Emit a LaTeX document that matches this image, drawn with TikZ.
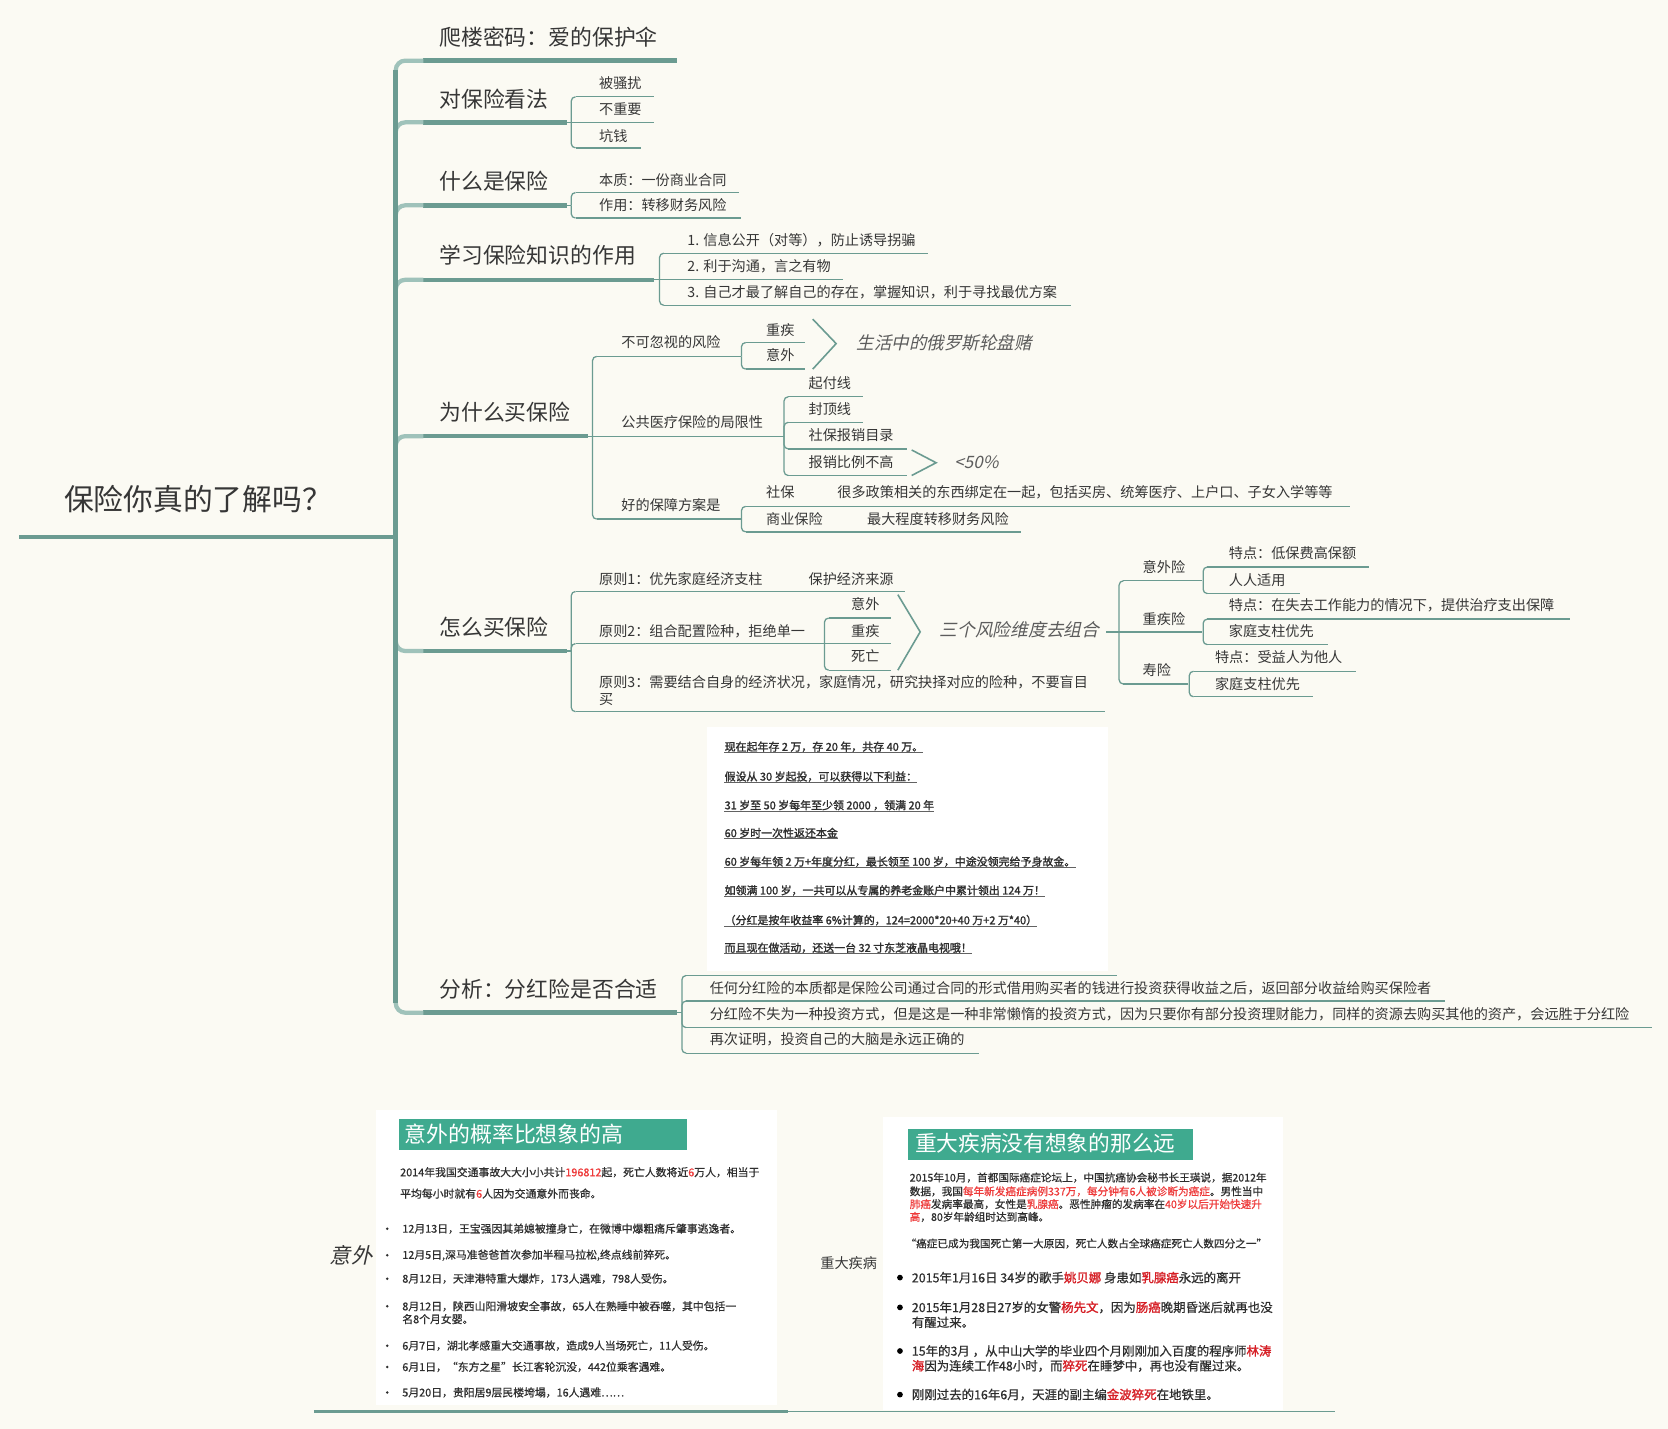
\documentclass[tikz,border=0pt]{standalone}
\usepackage{fontspec}
\setmainfont{Noto Sans CJK SC}
\newfontfamily\slantcjk[FakeSlant=0.22]{Noto Sans CJK SC}
\newfontfamily\heavycjk[FakeBold=1.6]{Noto Sans CJK SC}
\newfontfamily\midcjk[FakeBold=0.6]{Noto Sans CJK SC}
\usetikzlibrary{calc}

\definecolor{paper}{HTML}{FBFAF3}
\definecolor{branch}{HTML}{6B9B91}
\definecolor{branchlight}{HTML}{9FC2BA}
\definecolor{ink}{HTML}{363636}
\definecolor{soft}{HTML}{5C5C5C}
\definecolor{panelink}{HTML}{2E2E2E}
\definecolor{banner}{HTML}{3FAA8F}
\definecolor{alert}{HTML}{EE3A3A}
\definecolor{alertdark}{HTML}{D61F26}

\newcommand\fsz[1]{\fontsize{#1}{#1}\selectfont}
% a topic underline with named ends
\newcommand\tline[5]{%
  \coordinate (#1-s) at (#2,#4);
  \coordinate (#1-e) at (#3,#4);
  \draw[#5] (#1-s) -- (#1-e);}
% bracket connector with a rounded elbow
\newcommand\twig[2]{\draw[twigline] (#1) |- (#2);}
\newcommand\red[1]{\textcolor{alert}{#1}}
\newcommand\hot[1]{{\heavycjk\textcolor{alertdark}{#1}}}
% underlined line of the savings-plan panel
\newcommand\pline[3]{%
  \node[paneltxt] (#1) at (681,#2) {#3};
  \draw[panelrule] ([yshift=-0.6pt]#1.south west) -- ([yshift=-0.6pt]#1.south east);}

\begin{document}
\begin{tikzpicture}[x=1pt,y=-1pt,
  trunk/.style={draw=branch,line width=4.6pt},
  spur/.style={draw=branchlight,line width=4pt,rounded corners=9pt},
  thickline/.style={draw=branch,line width=4.2pt},
  thinline/.style={draw=branch,line width=1.2pt},
  twigline/.style={draw=branch,line width=1.2pt,rounded corners=4pt},
  chevron/.style={draw=branch,line width=1.5pt},
  txt/.style={anchor=west,inner sep=0pt,text=ink},
  topic/.style={txt,font=\fsz{20.5}},
  leaf/.style={txt,font=\fsz{13.3}},
  aside/.style={txt,text=soft,font=\slantcjk\fsz{16.5}},
  paneltxt/.style={txt,text=panelink,font=\heavycjk\fsz{10.3}},
  panelrule/.style={draw=panelink!75,line width=0.9pt},
  note/.style={txt,text=panelink,font=\midcjk\fsz{10.2}},
  notes/.style={txt,text=panelink,font=\midcjk\fsz{11.7}},
  bannertxt/.style={txt,text=white,font=\fsz{20.6}},
]
\useasboundingbox (0,0) rectangle (1568,1343);
\fill[paper] (0,0) rectangle (1568,1343);

% ---------- root ----------
\node[txt,font=\fsz{28}] (root) at (60,469) {保险你真的了解吗？};
\tline{r}{18}{363}{505}{thickline}
\coordinate (hub) at (372,505);
\draw[thickline] (r-e) -- (hub);

% ---------- main branches ----------
\tline{b1}{398}{636}{57}{thickline}
\tline{b2}{398}{533}{115}{thickline}
\tline{b3}{398}{533}{193}{thickline}
\tline{b4}{398}{615}{263}{thickline}
\tline{b5}{398}{553}{410}{thickline}
\tline{b6}{398}{533}{612}{thickline}
\tline{b7}{398}{636}{952}{thickline}
\foreach \b in {b1,b2,b3,b4,b5,b6,b7} \draw[spur] (hub) |- (\b-s);
\coordinate (spinetop) at (372,66);
\coordinate (spinebot) at (372,943);
\draw[trunk] (spinetop) -- (spinebot);

\node[topic] (b1t) at (413,35) {爬楼密码：爱的保护伞};
\node[topic] (b2t) at (413,93) {对保险看法};
\node[topic] (b3t) at (413,170) {什么是保险};
\node[topic] (b4t) at (413,240) {学习保险知识的作用};
\node[topic] (b5t) at (413,387) {为什么买保险};
\node[topic] (b6t) at (413,590) {怎么买保险};
\node[topic] (b7t) at (413,930) {分析：分红险是否合适};

% ---------- 对保险看法 ----------
\coordinate (b2j) at (537,115);
\draw[thinline] (b2-e) -- (b2j);
\tline{b2a}{541}{615}{91}{thinline}
\tline{b2b}{541}{615}{115}{thinline}
\tline{b2c}{541}{603}{139}{thinline}
\twig{b2j}{b2a-s}
\draw[thinline] (b2j) -- (b2b-s);
\twig{b2j}{b2c-s}
\node[leaf] (b2at) at (563,78) {被骚扰};
\node[leaf] (b2bt) at (563,103) {不重要};
\node[leaf] (b2ct) at (563,128) {坑钱};

% ---------- 什么是保险 ----------
\coordinate (b3j) at (537,193);
\draw[thinline] (b3-e) -- (b3j);
\tline{b3a}{541}{695}{181}{thinline}
\tline{b3b}{541}{697}{205}{thinline}
\twig{b3j}{b3a-s}
\twig{b3j}{b3b-s}
\node[leaf] (b3at) at (563,169) {本质：一份商业合同};
\node[leaf] (b3bt) at (563,193) {作用：转移财务风险};

% ---------- 学习保险知识的作用 ----------
\coordinate (b4j) at (620,263);
\draw[thinline] (b4-e) -- (b4j);
\tline{b4a}{624}{872}{238}{thinline}
\tline{b4b}{624}{792}{263}{thinline}
\tline{b4c}{624}{1007}{287}{thinline}
\twig{b4j}{b4a-s}
\draw[thinline] (b4j) -- (b4b-s);
\twig{b4j}{b4c-s}
\node[leaf] (b4at) at (646,226) {1. 信息公开（对等），防止诱导拐骗};
\node[leaf] (b4bt) at (646,250) {2. 利于沟通，言之有物};
\node[leaf] (b4ct) at (646,275) {3. 自己才最了解自己的存在，掌握知识，利于寻找最优方案};

% ---------- 为什么买保险 ----------
\coordinate (b5j) at (557,410);
\draw[thinline] (b5-e) -- (b5j);
\tline{b5a}{561}{695}{335}{thinline}
\tline{b5b}{561}{735}{410}{thinline}
\tline{b5c}{561}{695}{488}{thinline}
\twig{b5j}{b5a-s}
\draw[thinline] (b5j) -- (b5b-s);
\twig{b5j}{b5c-s}
\node[leaf] (b5at) at (584,322) {不可忽视的风险};
\node[leaf] (b5bt) at (584,397) {公共医疗保险的局限性};
\node[leaf] (b5ct) at (584,475) {好的保障方案是};

% risks
\coordinate (b5aj) at (697,335);
\draw[thinline] (b5a-e) -- (b5aj);
\tline{b5a1}{701}{757}{322}{thinline}
\tline{b5a2}{701}{757}{347}{thinline}
\twig{b5aj}{b5a1-s}
\twig{b5aj}{b5a2-s}
\node[leaf] (b5a1t) at (720,310) {重疾};
\node[leaf] (b5a2t) at (720,334) {意外};
\draw[chevron] (764,300) -- (786,323) -- (764,347);
\node[aside] (roulette) at (805,322) {生活中的俄罗斯轮盘赌};

% limits of public insurance
\coordinate (b5bj) at (737,410);
\draw[thinline] (b5b-e) -- (b5bj);
\tline{b5b1}{741}{811}{373}{thinline}
\tline{b5b2}{741}{811}{397}{thinline}
\tline{b5b3}{741}{853}{422}{thinline}
\tline{b5b4}{741}{853}{447}{thinline}
\twig{b5bj}{b5b1-s}
\twig{b5bj}{b5b2-s}
\twig{b5bj}{b5b3-s}
\twig{b5bj}{b5b4-s}
\node[leaf] (b5b1t) at (760,360) {起付线};
\node[leaf] (b5b2t) at (760,385) {封顶线};
\node[leaf] (b5b3t) at (760,409) {社保报销目录};
\node[leaf] (b5b4t) at (760,434) {报销比例不高};
\draw[chevron] (857,423) -- (880,435) -- (857,447);
\node[aside,font=\slantcjk\fsz{16}] (ratio) at (897,435) {<50\%};

% good plan
\coordinate (b5cj) at (697,488);
\draw[thinline] (b5c-e) -- (b5cj);
\tline{b5c1}{701}{1269}{476}{thinline}
\tline{b5c2}{701}{960}{500}{thinline}
\twig{b5cj}{b5c1-s}
\twig{b5cj}{b5c2-s}
\node[leaf] (b5c1t) at (720,463) {社保};
\node[leaf] (b5c1n) at (787,463) {很多政策相关的东西绑定在一起，包括买房、统筹医疗、上户口、子女入学等等};
\node[leaf] (b5c2t) at (720,488) {商业保险};
\node[leaf] (b5c2n) at (815,488) {最大程度转移财务风险};

% ---------- 怎么买保险 ----------
\coordinate (b6j) at (537,612);
\draw[thinline] (b6-e) -- (b6j);
\tline{b6a}{541}{851}{556}{thinline}
\tline{b6b}{541}{773}{605}{thinline}
\tline{b6c}{541}{1039}{669}{thinline}
\twig{b6j}{b6a-s}
\twig{b6j}{b6b-s}
\twig{b6j}{b6c-s}
\node[leaf] (b6at) at (563,544) {原则1：优先家庭经济支柱};
\node[leaf] (b6an) at (760,544) {保护经济来源};
\node[leaf] (b6bt) at (563,593) {原则2：组合配置险种，拒绝单一};
\node[leaf,align=left,font=\fontsize{13.3}{16}\selectfont] (b6ct) at (563,649)
  {原则3：需要结合自身的经济状况，家庭情况，研究抉择对应的险种，不要盲目\\买};

\coordinate (b6bj) at (775,605);
\draw[thinline] (b6b-e) -- (b6bj);
\tline{b6b1}{779}{838}{581}{thinline}
\tline{b6b2}{779}{838}{605}{thinline}
\tline{b6b3}{779}{838}{630}{thinline}
\twig{b6bj}{b6b1-s}
\draw[thinline] (b6bj) -- (b6b2-s);
\twig{b6bj}{b6b3-s}
\node[leaf] (b6b1t) at (800,568) {意外};
\node[leaf] (b6b2t) at (800,593) {重疾};
\node[leaf] (b6b3t) at (800,617) {死亡};
\draw[chevron] (844,559) -- (865,594) -- (844,630);
\node[aside,font=\slantcjk\fsz{16.7}] (combo) at (883,592) {三个风险维度去组合};

% three kinds of cover
\coordinate (combo-e) at (1040,594);
\coordinate (comboj) at (1052,594);
\draw[thinline] (combo-e) -- (comboj);
\tline{k1}{1056}{1130}{546}{thinline}
\tline{k2}{1056}{1130}{594}{thinline}
\tline{k3}{1056}{1117}{643}{thinline}
\twig{comboj}{k1-s}
\draw[thinline] (comboj) -- (k2-s);
\twig{comboj}{k3-s}
\node[leaf] (k1t) at (1074,533) {意外险};
\node[leaf] (k2t) at (1074,582) {重疾险};
\node[leaf] (k3t) at (1074,630) {寿险};

\coordinate (k1j) at (1131,546);
\tline{k1a}{1135}{1287}{533}{thinline}
\tline{k1b}{1135}{1222}{558}{thinline}
\twig{k1j}{k1a-s}
\twig{k1j}{k1b-s}
\node[leaf] (k1at) at (1155,520) {特点：低保费高保额};
\node[leaf] (k1bt) at (1155,545) {人人适用};

\coordinate (k2j) at (1131,594);
\tline{k2a}{1135}{1476}{582}{thinline}
\tline{k2b}{1135}{1248}{606}{thinline}
\twig{k2j}{k2a-s}
\twig{k2j}{k2b-s}
\node[leaf] (k2at) at (1155,569) {特点：在失去工作能力的情况下，提供治疗支出保障};
\node[leaf] (k2bt) at (1155,593) {家庭支柱优先};

\coordinate (k3j) at (1118,643);
\tline{k3a}{1122}{1275}{631}{thinline}
\tline{k3b}{1122}{1234}{655}{thinline}
\twig{k3j}{k3a-s}
\twig{k3j}{k3b-s}
\node[leaf] (k3at) at (1142,618) {特点：受益人为他人};
\node[leaf] (k3bt) at (1142,643) {家庭支柱优先};

% ---------- 分析：分红险是否合适 ----------
\fill[white] (665,683) rectangle (1042,913);
\pline{p1}{702}{现在起年存 2 万，存 20 年，共存 40 万。}
\pline{p2}{730}{假设从 30 岁起投，可以获得以下利益：}
\pline{p3}{757}{31 岁至 50 岁每年至少领 2000 ，领满 20 年}
\pline{p4}{783}{60 岁时一次性返还本金}
\pline{p5}{810}{60 岁每年领 2 万+年度分红，最长领至 100 岁，中途没领完给予身故金。}
\pline{p6}{837}{如领满 100 岁，一共可以从专属的养老金账户中累计领出 124 万！}
\pline{p7}{865}{（分红是按年收益率 6\%计算的，124=2000*20+40 万+2 万*40）}
\pline{p8}{891}{而且现在做活动，还送一台 32 寸东芝液晶电视哦！}

\coordinate (b7j) at (641,952);
\draw[thinline] (b7-e) -- (b7j);
\tline{b7i}{645}{1050}{917}{thinline}
\tline{b7a}{645}{1358}{941}{thinline}
\tline{b7b}{645}{1553}{966}{thinline}
\tline{b7c}{645}{920}{990}{thinline}
\twig{b7j}{b7i-s}
\twig{b7j}{b7a-s}
\twig{b7j}{b7b-s}
\twig{b7j}{b7c-s}
\node[leaf] (b7at) at (667,929) {任何分红险的本质都是保险公司通过合同的形式借用购买者的钱进行投资获得收益之后，返回部分收益给购买保险者};
\node[leaf] (b7bt) at (667,953) {分红险不失为一种投资方式，但是这是一种非常懒惰的投资方式，因为只要你有部分投资理财能力，同样的资源去购买其他的资产，会远胜于分红险};
\node[leaf] (b7ct) at (667,977) {再次证明，投资自己的大脑是永远正确的};

% ---------- accidents panel ----------
\node[txt,text=ink,font=\slantcjk\fsz{20}] (accident) at (310,1180) {意外};
\fill[white] (353,1043) rectangle (730,1321);
\fill[banner] (375,1052) rectangle (646,1081);
\node[bannertxt] (acctitle) at (380,1066) {意外的概率比想象的高};
\node[note] (acc1) at (376,1102) {2014年我国交通事故大大小小共计\red{196812}起，死亡人数将近\red{6}万人，相当于};
\node[note] (acc2) at (376,1122) {平均每小时就有\red{6}人因为交通意外而丧命。};
\foreach \yy in {1155,1180,1202,1228,1265,1285,1309} \fill[panelink] (364,\yy) circle (1.3);
\node[note] (e1) at (378,1155) {12月13日，王宝强因其弟媳被撞身亡，在微博中爆粗痛斥肇事逃逸者。};
\node[note] (e2) at (378,1180) {12月5日,深马准爸爸首次参加半程马拉松,终点线前猝死。};
\node[note] (e3) at (378,1202) {8月12日，天津港特重大爆炸，173人遇难，798人受伤。};
\node[note] (e4) at (378,1228) {8月12日，陕西山阳滑坡安全事故，65人在熟睡中被吞噬，其中包括一};
\node[note] (e4b) at (378,1240) {名8个月女婴。};
\node[note] (e5) at (378,1265) {6月7日，湖北孝感重大交通事故，造成9人当场死亡，11人受伤。};
\node[note] (e6) at (378,1285) {6月1日，“东方之星”长江客轮沉没，442位乘客遇难。};
\node[note] (e7) at (378,1309) {5月20日，贵阳居9层民楼垮塌，16人遇难……};

% ---------- serious illness panel ----------
\node[leaf] (illness) at (771,1187) {重大疾病};
\fill[white] (830,1050) rectangle (1206,1325);
\fill[banner] (854,1061) rectangle (1121,1090);
\node[bannertxt,font=\fsz{20.4}] (illtitle) at (860,1075) {重大疾病没有想象的那么远};
\node[note,font=\midcjk\fsz{10}] (ill1) at (855,1107) {2015年10月，首都国际癌症论坛上，中国抗癌协会秘书长王瑛说，据2012年};
\node[note,font=\midcjk\fsz{10}] (ill2) at (855,1120) {数据，我国\red{每年新发癌症病例337万，每分钟有6人被诊断为癌症}。男性当中};
\node[note,font=\midcjk\fsz{10}] (ill3) at (855,1132) {\red{肺癌}发病率最高，女性是\red{乳腺癌}。恶性肿瘤的发病率在\red{40岁以后开始快速升}};
\node[note,font=\midcjk\fsz{10}] (ill4) at (855,1144) {\red{高}，80岁年龄组时达到高峰。};
\node[note,font=\midcjk\fsz{10}] (quote) at (851,1169) {“癌症已成为我国死亡第一大原因，死亡人数占全球癌症死亡人数四分之一”};
\foreach \yy in {1201,1229,1270,1311} \fill[black] (846,\yy) circle (2.7);
\node[notes] (c1) at (857,1201) {2015年1月16日 34岁的歌手\hot{姚贝娜} 身患如\hot{乳腺癌}永远的离开};
\node[notes] (c2) at (857,1229) {2015年1月28日27岁的女警\hot{杨先文}，因为\hot{肠癌}晚期昏迷后就再也没};
\node[notes] (c2b) at (857,1243) {有醒过来。};
\node[notes] (c3) at (857,1270) {15年的3月 ，从中山大学的毕业四个月刚刚加入百度的程序师\hot{林涛}};
\node[notes] (c3b) at (857,1284) {\hot{海}因为连续工作48小时，而\hot{猝死}在睡梦中，再也没有醒过来。};
\node[notes] (c4) at (857,1311) {刚刚过去的16年6月，天涯的副主编\hot{金波猝死}在地铁里。};

% ---------- bottom rule ----------
\tline{g1}{295}{741}{1327}{draw=branch,line width=3pt}
\tline{g2}{741}{1255}{1327}{thinline}
\end{tikzpicture}
\end{document}
